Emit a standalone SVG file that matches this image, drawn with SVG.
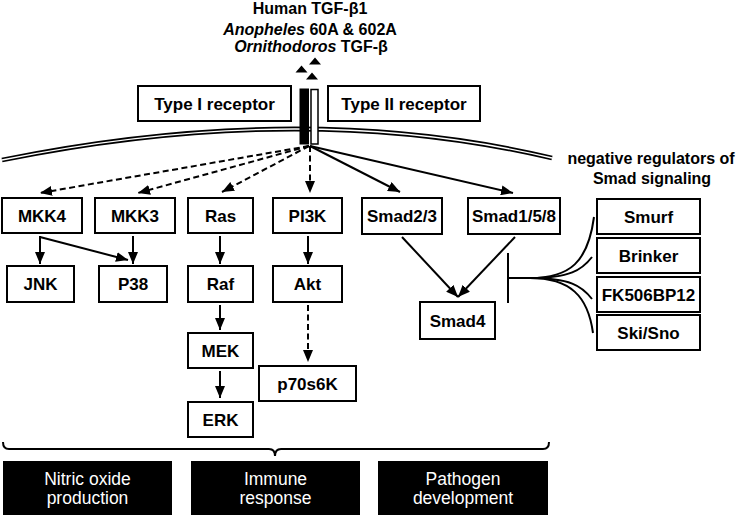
<svg xmlns="http://www.w3.org/2000/svg" width="738" height="520" viewBox="0 0 738 520">
<defs>
<style>
.box{fill:#fff;stroke:#000;stroke-width:2}
.lbl{font-family:"Liberation Sans",Arial,sans-serif;font-weight:bold;font-size:17px;text-anchor:middle;fill:#000}
.ttl{font-family:"Liberation Sans",Arial,sans-serif;font-weight:bold;font-size:16px;text-anchor:middle;fill:#000}
.out{fill:#000;stroke:none}
.otx{font-family:"Liberation Sans",Arial,sans-serif;font-size:17.5px;text-anchor:middle;fill:#fff}
.ln{fill:none;stroke:#000;stroke-width:2}
.dash{stroke-dasharray:6 3.5}
</style>
<marker id="ah" viewBox="0 0 12 10" refX="12" refY="5" markerWidth="12" markerHeight="10" markerUnits="userSpaceOnUse" orient="auto">
<path d="M0,0 L12,5 L0,10 Z" fill="#000"/>
</marker>
</defs>
<rect width="738" height="520" fill="#fff"/>

<g id="ligand">
<text class="ttl" x="310" y="14">Human TGF-β1</text>
<text class="ttl" x="310" y="35"><tspan font-style="italic">Anopheles</tspan> 60A &amp; 602A</text>
<text class="ttl" x="311" y="51.5"><tspan font-style="italic">Ornithodoros</tspan> TGF-β</text>
<path d="M301.5,65.5 L307.5,72.5 L295.5,72.5 Z M315,57.5 L321,64.5 L309,64.5 Z M312,72.5 L318,79.5 L306,79.5 Z" fill="#000"/>
</g>

<g id="membrane">
<path d="M2,160 Q303,99 552,158" fill="none" stroke="#000" stroke-width="4.8"/>
<path d="M2,160 Q303,99 552,158" fill="none" stroke="#fff" stroke-width="1.4"/>
</g>

<g id="type1">
<rect class="box" x="138" y="86" width="153" height="35"/>
<text class="lbl" x="214.5" y="109.5">Type I receptor</text>
</g>
<g id="type2">
<rect class="box" x="328" y="86" width="152" height="35"/>
<text class="lbl" x="404" y="109.5">Type II receptor</text>
</g>
<g id="receptor">
<rect x="300" y="89" width="8.5" height="55" fill="#000" stroke="#000" stroke-width="1"/>
<rect x="311" y="89.5" width="7" height="54.5" fill="#fff" stroke="#000" stroke-width="1.5"/>
</g>

<g id="connectors">
<line class="ln dash" x1="309" y1="146" x2="40" y2="193" marker-end="url(#ah)"/>
<line class="ln dash" x1="309" y1="146" x2="138" y2="193" marker-end="url(#ah)"/>
<line class="ln dash" x1="309" y1="146" x2="222" y2="192" marker-end="url(#ah)"/>
<line class="ln dash" x1="310" y1="146" x2="310" y2="193" marker-end="url(#ah)"/>
<line class="ln" x1="310" y1="146" x2="400" y2="192" marker-end="url(#ah)"/>
<line class="ln" x1="310" y1="146" x2="513" y2="193" marker-end="url(#ah)"/>
<line class="ln" x1="40" y1="236" x2="40" y2="264" marker-end="url(#ah)"/>
<line class="ln" x1="40" y1="237" x2="128" y2="260" marker-end="url(#ah)"/>
<line class="ln" x1="133" y1="236" x2="133" y2="264" marker-end="url(#ah)"/>
<line class="ln" x1="220" y1="236" x2="220" y2="264" marker-end="url(#ah)"/>
<line class="ln" x1="308" y1="236" x2="308" y2="264" marker-end="url(#ah)"/>
<line class="ln" x1="220" y1="305" x2="220" y2="330" marker-end="url(#ah)"/>
<line class="ln" x1="220" y1="371" x2="220" y2="398" marker-end="url(#ah)"/>
<line class="ln dash" x1="308" y1="305" x2="308" y2="362" marker-end="url(#ah)"/>
<line class="ln" x1="402" y1="237" x2="458" y2="297" marker-end="url(#ah)"/>
<line class="ln" x1="515" y1="237" x2="458" y2="297" marker-end="url(#ah)"/>
<line class="ln" x1="508" y1="253" x2="508" y2="303"/>
<line class="ln" x1="508" y1="278" x2="535" y2="278"/>
<path class="ln" d="M530,278 C570,278 588,262 594,217"/>
<path class="ln" d="M530,278 C570,278 582,270 592,257"/>
<path class="ln" d="M530,278 C570,278 582,286 592,299"/>
<path class="ln" d="M530,278 C570,278 588,296 593,333"/>
<path class="ln" d="M3,442 Q3,449 9,449 L269,449 Q275,449 275,456 Q275,449 281,449 L543,449 Q549,449 549,442"/>
</g>

<g id="mkk4"><rect class="box" x="2" y="198" width="80" height="35"/><text class="lbl" x="42" y="221.5">MKK4</text></g>
<g id="mkk3"><rect class="box" x="95" y="198" width="80" height="35"/><text class="lbl" x="135" y="221.5">MKK3</text></g>
<g id="ras"><rect class="box" x="188" y="198" width="65" height="35"/><text class="lbl" x="220.5" y="221.5">Ras</text></g>
<g id="pi3k"><rect class="box" x="273" y="198" width="69" height="35"/><text class="lbl" x="307.5" y="221.5">PI3K</text></g>
<g id="smad23"><rect class="box" x="362" y="198" width="80" height="36"/><text class="lbl" x="402" y="222">Smad2/3</text></g>
<g id="smad158"><rect class="box" x="468" y="198" width="92" height="36"/><text class="lbl" x="514" y="222">Smad1/5/8</text></g>

<g id="jnk"><rect class="box" x="7" y="266" width="67" height="36"/><text class="lbl" x="40.5" y="290">JNK</text></g>
<g id="p38"><rect class="box" x="99" y="266" width="68" height="36"/><text class="lbl" x="133" y="290">P38</text></g>
<g id="raf"><rect class="box" x="188" y="266" width="65" height="36"/><text class="lbl" x="220.5" y="290">Raf</text></g>
<g id="akt"><rect class="box" x="273" y="266" width="69" height="36"/><text class="lbl" x="307.5" y="290">Akt</text></g>
<g id="smad4"><rect class="box" x="420" y="302" width="75" height="37"/><text class="lbl" x="457.5" y="326.5">Smad4</text></g>

<g id="mek"><rect class="box" x="188" y="333" width="65" height="35"/><text class="lbl" x="220.5" y="356.5">MEK</text></g>
<g id="erk"><rect class="box" x="188" y="402" width="65" height="35"/><text class="lbl" x="220.5" y="425.5">ERK</text></g>
<g id="p70s6k"><rect class="box" x="259" y="366" width="97" height="35"/><text class="lbl" x="307.5" y="389.5">p70s6K</text></g>

<g id="negreg">
<text class="ttl" x="651" y="164" font-size="15">negative regulators of</text>
<text class="ttl" x="652" y="184" font-size="15">Smad signaling</text>
</g>
<g id="smurf"><rect class="box" x="597" y="199" width="103" height="35"/><text class="lbl" x="648.5" y="222.5" font-size="16.5">Smurf</text></g>
<g id="brinker"><rect class="box" x="597" y="238" width="103" height="35"/><text class="lbl" x="648.5" y="261.5" font-size="16.5">Brinker</text></g>
<g id="fk506bp12"><rect class="box" x="597" y="277" width="103" height="35"/><text class="lbl" x="648.5" y="300.5" font-size="16.5">FK506BP12</text></g>
<g id="skisno"><rect class="box" x="597" y="315" width="103" height="35"/><text class="lbl" x="648.5" y="338.5" font-size="16.5">Ski/Sno</text></g>

<g id="nitric"><rect class="out" x="3" y="461" width="169" height="54"/><text class="otx" x="87.5" y="485">Nitric oxide</text><text class="otx" x="87.5" y="504">production</text></g>
<g id="immune"><rect class="out" x="191" y="461" width="169" height="54"/><text class="otx" x="275.5" y="485">Immune</text><text class="otx" x="275.5" y="504">response</text></g>
<g id="pathogen"><rect class="out" x="378" y="461" width="170" height="54"/><text class="otx" x="463" y="485">Pathogen</text><text class="otx" x="463" y="504">development</text></g>
</svg>
